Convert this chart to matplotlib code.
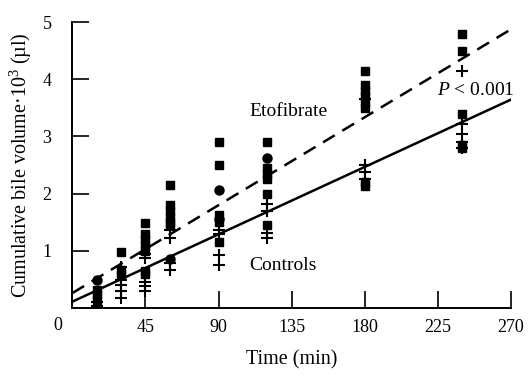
import matplotlib
matplotlib.use("Agg")
import matplotlib.pyplot as plt
import numpy as np

plt.rcParams.update({
    "font.family": ["Liberation Serif", "DejaVu Serif"],
    "font.size": 12,
    "mathtext.fontset": "custom",
    "mathtext.rm": "Liberation Serif",
    "mathtext.it": "Liberation Serif:italic",
})

# ── data ─────────────────────────────────────────────────────────────────────
# etofibrate (filled squares)
eto_t = [15, 15, 15, 30, 30, 30, 45, 45, 45, 45, 45, 45, 45,
         60, 60, 60, 60, 60, 60, 90, 90, 90, 90, 90,
         120, 120, 120, 120, 120, 120, 180, 180, 180, 180, 180, 180, 180, 180,
         240, 240, 240, 240, 240]
eto_v = [0.31, 0.23, 0.14, 0.98, 0.66, 0.58, 1.48, 1.30, 1.20, 1.10, 1.00, 0.65, 0.60,
         2.15, 1.80, 1.70, 1.60, 1.50, 1.45, 2.90, 2.50, 1.62, 1.50, 1.15,
         2.90, 2.45, 2.35, 2.25, 2.00, 1.45, 4.15, 3.90, 3.80, 3.70, 3.60, 3.50, 2.20, 2.13,
         4.80, 4.50, 3.40, 2.85, 2.80]

# coincident points (filled circles)
circ_t = [15, 60, 90, 90, 120]
circ_v = [0.49, 0.85, 2.06, 1.55, 2.62]

# controls (crosses)
ctrl_t = [15, 15, 30, 30, 30, 30, 30, 45, 45, 45, 45, 45,
          60, 60, 60, 60, 90, 90, 90, 90,
          120, 120, 120, 120, 180, 180, 180, 180,
          240, 240, 240, 240, 240]
ctrl_v = [0.11, 0.03, 0.72, 0.49, 0.40, 0.29, 0.17, 0.95, 0.88, 0.45, 0.38, 0.30,
          1.36, 1.22, 0.78, 0.66, 1.36, 1.30, 0.93, 0.75,
          1.82, 1.70, 1.32, 1.22, 3.65, 2.50, 2.37, 2.25,
          4.15, 3.22, 3.05, 2.90, 2.80]

# regression lines (intercept, slope) and end points
eto_line = (0.26, 0.0171)
ctrl_line = (0.11, 0.0131)
line_t = [0, 272]

x_ticks = [45, 90, 135, 180, 225, 270]
y_ticks = [1, 2, 3, 4, 5]

fig = plt.figure(figsize=(5.28, 3.76), dpi=100)
ax = fig.add_axes([0.137, 0.181, 0.831, 0.760])

t = np.array(line_t)
ax.plot(t, eto_line[0] + eto_line[1] * t, color="black", lw=1.8,
        dashes=(5.5, 3.5), zorder=2)
ax.plot(t, ctrl_line[0] + ctrl_line[1] * t, color="black", lw=1.8, zorder=2)

ax.plot(eto_t, eto_v, "s", color="black", ms=5.5, ls="none", zorder=3)
ax.plot(circ_t, circ_v, "o", color="black", ms=6.5, ls="none", zorder=3)
ax.plot(ctrl_t, ctrl_v, "+", color="black", ms=9, mew=1.5, ls="none", zorder=3)

ax.text(109, 3.43, "Etofibrate", ha="left", va="center", fontsize=14)
ax.text(109, 0.74, "Controls", ha="left", va="center", fontsize=14)
ax.text(248, 3.81, "$\\mathit{P}$ < 0.001", ha="center", va="center", fontsize=14)

ax.set_xlim(0, 270)
ax.set_ylim(0, 5)
ax.set_xticks(x_ticks)
ax.set_yticks(y_ticks)
ax.tick_params(direction="in", length=12, width=1.2, labelsize=13)
ax.tick_params(axis="x", pad=8)
ax.tick_params(axis="y", pad=15)
ax.text(-9, -0.3, "0", ha="center", va="center", fontsize=13)
for s in ["top", "right"]:
    ax.spines[s].set_visible(False)
for s in ["left", "bottom"]:
    ax.spines[s].set_linewidth(1.4)

ax.set_xlabel("Time (min)", fontsize=14.5, labelpad=10)
ax.set_ylabel("Cumulative bile volume·10$^3$ (µl)", fontsize=14.5, labelpad=6)

fig.savefig("out.png", dpi=100)
